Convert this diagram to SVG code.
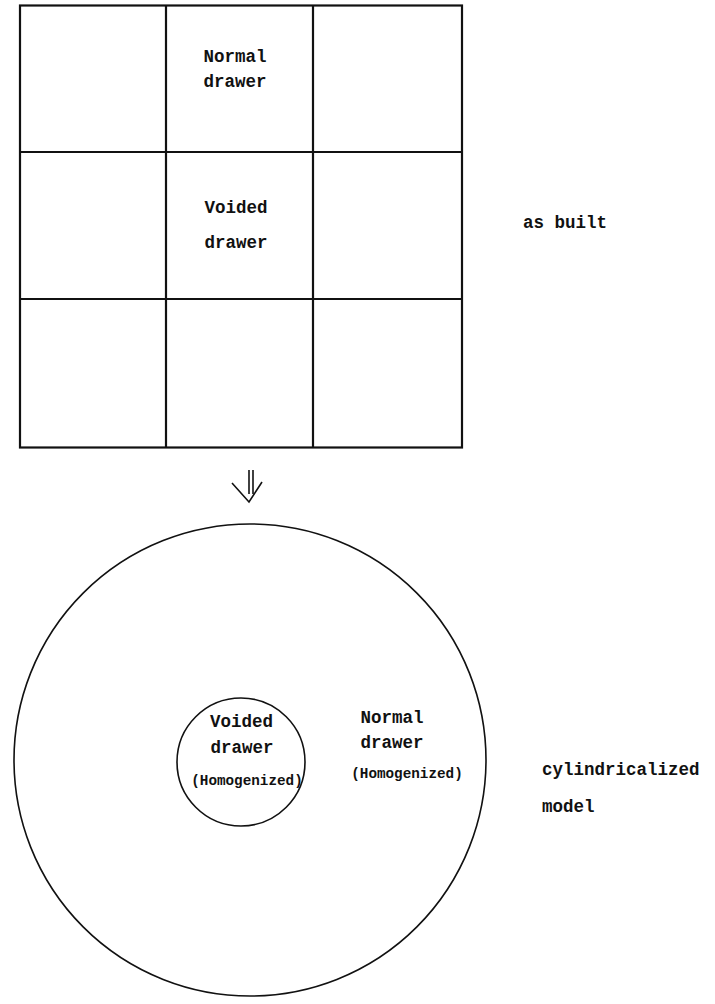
<svg xmlns="http://www.w3.org/2000/svg" width="715" height="1004" viewBox="0 0 715 1004">
<style>
.t{font-family:"Liberation Mono","DejaVu Sans Mono",monospace;font-weight:bold;font-size:17.5px;fill:#111;text-anchor:middle}
.s{font-size:14.3px}
.l{text-anchor:start}
.g{stroke:#111;stroke-width:2.2;fill:none}
.c{stroke:#111;stroke-width:1.6;fill:none}
</style>
<rect width="715" height="1004" fill="#fff"/>
<g id="grid">
<rect class="g" x="20" y="5.5" width="442" height="442"/>
<line class="g" x1="166" y1="5.5" x2="166" y2="447.5"/>
<line class="g" x1="313" y1="5.5" x2="313" y2="447.5"/>
<line class="g" x1="20" y1="152" x2="462" y2="152"/>
<line class="g" x1="20" y1="299" x2="462" y2="299"/>
</g>
<g id="normal-drawer-cell">
<text class="t" x="235" y="62">Normal</text>
<text class="t" x="235" y="87">drawer</text>
</g>
<g id="voided-drawer-cell">
<text class="t" x="236" y="213">Voided</text>
<text class="t" x="236" y="248">drawer</text>
</g>
<g id="label-as-built">
<text class="t l" x="523" y="228">as built</text>
</g>
<g id="connectors">
<line class="c" x1="249" y1="470" x2="249" y2="494"/>
<line class="c" x1="253" y1="470" x2="253" y2="494"/>
<polyline class="c" points="232,483 249,502 262,482"/>
</g>
<g id="outer-cylinder">
<circle class="c" cx="250" cy="760" r="236"/>
<text class="t" x="392" y="723">Normal</text>
<text class="t" x="392" y="748">drawer</text>
<text class="t s" x="407" y="778">(Homogenized)</text>
</g>
<g id="inner-cylinder">
<circle class="c" cx="241" cy="762" r="64"/>
<text class="t" x="241.5" y="727">Voided</text>
<text class="t" x="242" y="753">drawer</text>
<text class="t s" x="247" y="785">(Homogenized)</text>
</g>
<g id="label-cylindricalized">
<text class="t l" x="542" y="775">cylindricalized</text>
<text class="t l" x="542" y="812">model</text>
</g>
</svg>
